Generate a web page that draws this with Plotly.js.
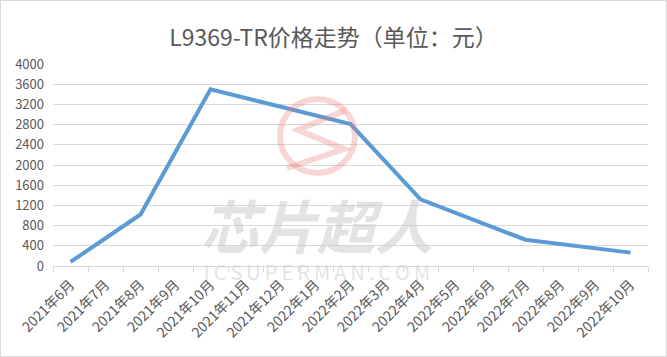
<!DOCTYPE html>
<html>
<head>
<meta charset="utf-8">
<script src="https://cdn.plot.ly/plotly-3.0.1.min.js"></script>
<style>
html,body{margin:0;padding:0;background:#fff;}
#chart{width:667px;height:357px;box-sizing:border-box;border:1px solid #d9d9d9;}
</style>
</head>
<body>
<div id="chart"></div>
<script>
// Data
const months = ["2021年6月","2021年7月","2021年8月","2021年9月","2021年10月","2021年11月","2021年12月","2022年1月","2022年2月","2022年3月","2022年4月","2022年5月","2022年6月","2022年7月","2022年8月","2022年9月","2022年10月"];
const prices = [80, null, 1020, null, 3500, null, null, null, 2810, null, 1320, null, null, 520, null, null, 265];
const yTicks = [0,400,800,1200,1600,2000,2400,2800,3200,3600,4000];
const titleText = "L9369-TR价格走势（单位：元）";
const wmMain = "芯片超人";
const wmSub = "ICSUPERMAN.COM";

const W = 665, H = 355;
const L = 52, R = 18, T = 63, B = 90;
const pw = W - L - R, ph = H - T - B;
function px(X){ return (X - 1 - L) / pw; }
function py(Y){ return (H - B - (Y - 1)) / ph; }

const font = '"Noto Sans CJK SC", "Noto Sans", sans-serif';

function pathFrom(pts){
  return pts.map((p,i)=> (i? 'L':'M') + px(p[0]).toFixed(4) + ',' + py(p[1]).toFixed(4)).join(' ');
}

const trace = {
  x: months,
  y: prices,
  type: 'scatter',
  mode: 'lines',
  connectgaps: true,
  line: {color: '#5b9bd5', width: 4, shape: 'linear'},
  hoverinfo: 'x+y'
};

const wmText = '<span style="font-size:58px"><b><i>' + wmMain + '</i></b></span><br>' +
  '<span style="font-size:20px">' + wmSub.split('').join('\u2009') + '</span>';

const layout = {
  width: W, height: H,
  margin: {l: L, r: R, t: T, b: B},
  paper_bgcolor: '#ffffff',
  plot_bgcolor: '#ffffff',
  showlegend: false,
  title: {
    text: titleText,
    font: {family: font, size: 23, color: '#595959'},
    x: 0.5, xanchor: 'center',
    y: 1 - 37/H, yanchor: 'middle', yref: 'container'
  },
  xaxis: {
    type: 'category',
    categoryorder: 'array',
    categoryarray: months,
    tickson: 'boundaries',
    ticks: 'outside',
    ticklen: 5,
    tickcolor: '#d9d9d9',
    tickwidth: 1,
    showline: true,
    linecolor: '#d9d9d9',
    linewidth: 1,
    showgrid: false,
    zeroline: false,
    tickangle: -45,
    ticklabelstandoff: 4,
    tickfont: {family: font, size: 14, color: '#595959'},
    range: [-0.5, months.length - 0.5],
    fixedrange: true
  },
  yaxis: {
    range: [0, 4000],
    tickvals: yTicks,
    ticktext: yTicks.map(String),
    showgrid: true,
    gridcolor: '#d9d9d9',
    gridwidth: 1,
    zeroline: false,
    showline: false,
    ticks: '',
    ticklabelstandoff: 8,
    tickfont: {family: font, size: 13, color: '#595959'},
    fixedrange: true
  },
  shapes: [
    {type: 'circle', xref: 'paper', yref: 'paper',
     x0: px(280), x1: px(355), y0: py(173), y1: py(99),
     line: {color: 'rgba(235,120,120,0.3)', width: 6}, fillcolor: 'rgba(0,0,0,0)', layer: 'above'},
    {type: 'path', xref: 'paper', yref: 'paper',
     path: pathFrom([[346,110],[298,130],[344,149],[287,168]]),
     line: {color: 'rgba(235,120,120,0.3)', width: 6}, layer: 'above'}
  ],
  annotations: [
    {text: wmText, xref: 'paper', yref: 'paper',
     x: px(317), y: py(234), xanchor: 'center', yanchor: 'middle', showarrow: false,
     align: 'center',
     font: {family: font, size: 24, color: 'rgba(200,200,200,0.5)'}}
  ]
};

Plotly.newPlot('chart', [trace], layout, {displayModeBar: false, staticPlot: true});
</script>
</body>
</html>
